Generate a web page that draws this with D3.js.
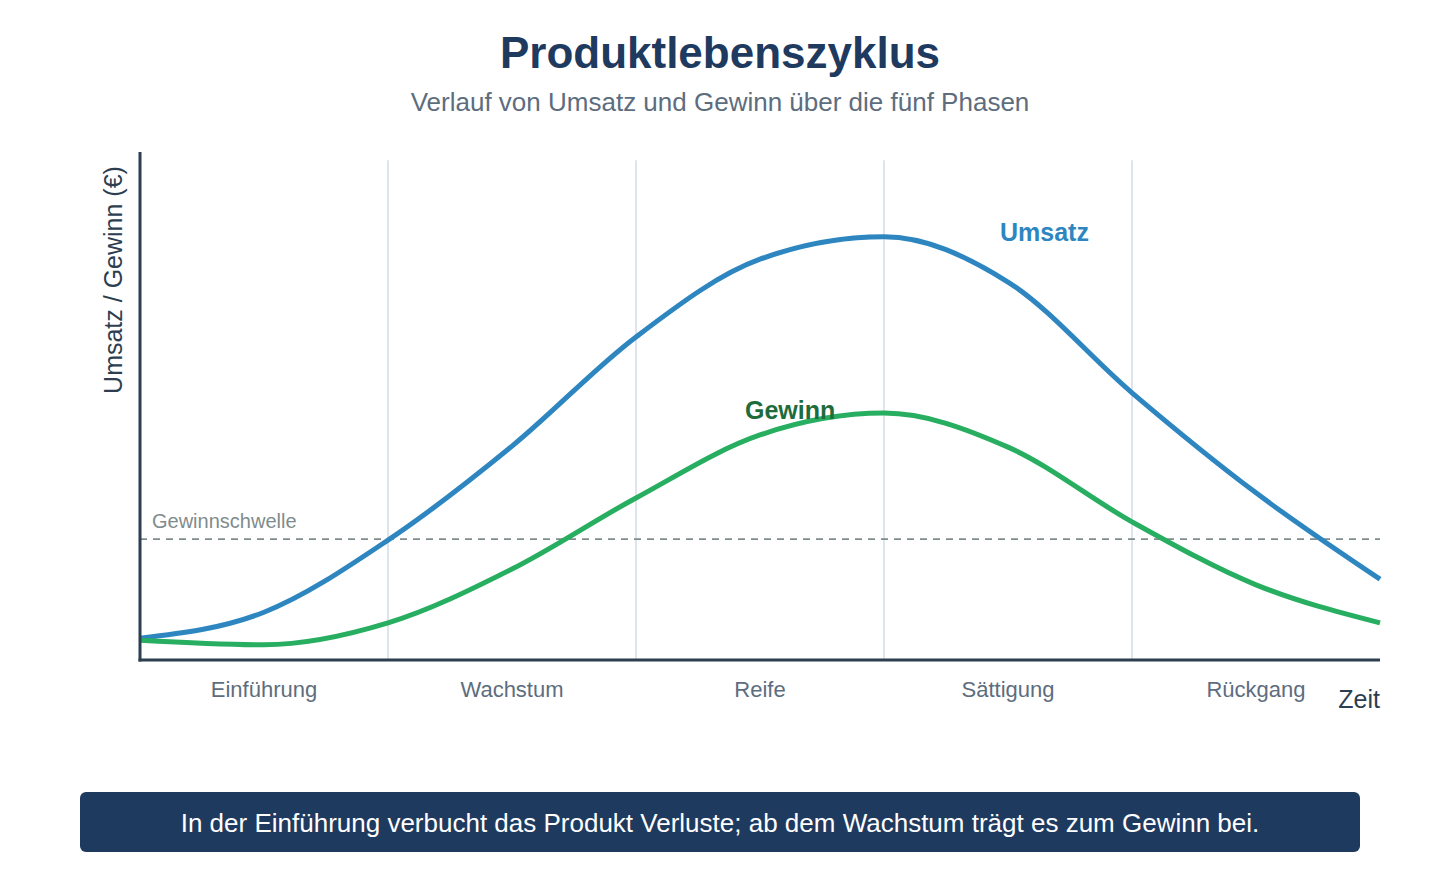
<!DOCTYPE html>
<html lang="de">
<head>
<meta charset="utf-8">
<script src="https://cdn.jsdelivr.net/npm/d3@7"></script>
<style>
  html, body { margin: 0; padding: 0; background: #ffffff; }
  svg { display: block; font-family: "Liberation Sans", Arial, Helvetica, sans-serif; }
</style>
</head>
<body>
<svg id="chart" width="1440" height="880"></svg>
<script>
// ---- Data ----
const phases = ["Einführung", "Wachstum", "Reife", "Sättigung", "Rückgang"];
// time positions in phase units (0..5)
const timePoints = [0, 0.5, 1, 1.5, 2, 2.5, 3, 3.5, 4, 4.5, 5];
const umsatz = [4.3, 9.4, 23.6, 42.1, 63.6, 78.9, 83.3, 74.4, 52.6, 32.9, 15.9];
const gewinn = [3.9, 3.0, 7.3, 17.9, 31.9, 44.3, 48.6, 41.9, 27.2, 14.8, 7.3];
const gewinnschwelle = 23.8;
const phaseBoundaries = [1, 2, 3, 4];

const titleText = "Produktlebenszyklus";
const subtitleText = "Verlauf von Umsatz und Gewinn über die fünf Phasen";
const noteText = "In der Einführung verbucht das Produkt Verluste; ab dem Wachstum trägt es zum Gewinn bei.";

(function () {
  const svg = d3.select("#chart");
  const pLeft = 140, pRight = 1380, pTop = 152, pBottom = 660;

  const x = d3.scaleLinear().domain([0, 5]).range([pLeft, pRight]);
  const y = d3.scaleLinear().domain([0, 100]).range([pBottom, pTop]);

  // Title
  svg.append("text").attr("x", 720).attr("y", 68).attr("text-anchor", "middle")
    .attr("font-size", 44).attr("font-weight", "bold").attr("fill", "#1f3a5f").text(titleText);
  svg.append("text").attr("x", 720).attr("y", 111).attr("text-anchor", "middle")
    .attr("font-size", 26).attr("fill", "#5d6d7e").text(subtitleText);

  // Phase separators
  svg.append("g").selectAll("line").data(phaseBoundaries).join("line")
    .attr("x1", d => x(d)).attr("x2", d => x(d))
    .attr("y1", y(98.4)).attr("y2", pBottom)
    .attr("stroke", "#d5dde6").attr("stroke-width", 1.5);

  // Break-even line
  svg.append("line").attr("x1", pLeft).attr("x2", pRight)
    .attr("y1", y(gewinnschwelle)).attr("y2", y(gewinnschwelle))
    .attr("stroke", "#7f8c8d").attr("stroke-width", 1.6).attr("stroke-dasharray", "7,6");
  svg.append("text").attr("x", pLeft + 12).attr("y", y(gewinnschwelle) - 11)
    .attr("font-size", 20).attr("fill", "#7f8c8d").text("Gewinnschwelle");

  // Lines
  const line = d3.line().x((d, i) => x(timePoints[i])).y(d => y(d)).curve(d3.curveMonotoneX);
  svg.append("path").datum(umsatz).attr("d", line).attr("fill", "none")
    .attr("stroke", "#2e86c1").attr("stroke-width", 5);
  svg.append("path").datum(gewinn).attr("d", line).attr("fill", "none")
    .attr("stroke", "#27ae60").attr("stroke-width", 5);

  // Line labels
  svg.append("text").attr("x", 1000).attr("y", 241).attr("font-size", 25).attr("font-weight", "bold")
    .attr("fill", "#2e86c1").text("Umsatz");
  svg.append("text").attr("x", 745).attr("y", 419).attr("font-size", 25).attr("font-weight", "bold")
    .attr("fill", "#1e6b3c").text("Gewinn");

  // Axes
  svg.append("line").attr("x1", pLeft).attr("x2", pLeft).attr("y1", pTop).attr("y2", pBottom + 1.5)
    .attr("stroke", "#2c3e50").attr("stroke-width", 3);
  svg.append("line").attr("x1", pLeft - 1.5).attr("x2", pRight).attr("y1", pBottom).attr("y2", pBottom)
    .attr("stroke", "#2c3e50").attr("stroke-width", 3);

  // Phase labels
  svg.append("g").selectAll("text").data(phases).join("text")
    .attr("x", (d, i) => x(i + 0.5)).attr("y", 697).attr("text-anchor", "middle")
    .attr("font-size", 22).attr("fill", "#5d6d7e").text(d => d);

  svg.append("text").attr("x", pRight).attr("y", 708).attr("text-anchor", "end")
    .attr("font-size", 25).attr("fill", "#2c3e50").text("Zeit");

  svg.append("text").attr("transform", "translate(122,280) rotate(-90)").attr("text-anchor", "middle")
    .attr("font-size", 25).attr("fill", "#2c3e50").text("Umsatz / Gewinn (€)");

  // Note box
  svg.append("rect").attr("x", 80).attr("y", 792).attr("width", 1280).attr("height", 60)
    .attr("rx", 6).attr("fill", "#1f3a5f");
  svg.append("text").attr("x", 720).attr("y", 832).attr("text-anchor", "middle")
    .attr("font-size", 26).attr("fill", "#ffffff").text(noteText);
})();
</script>
</body>
</html>
